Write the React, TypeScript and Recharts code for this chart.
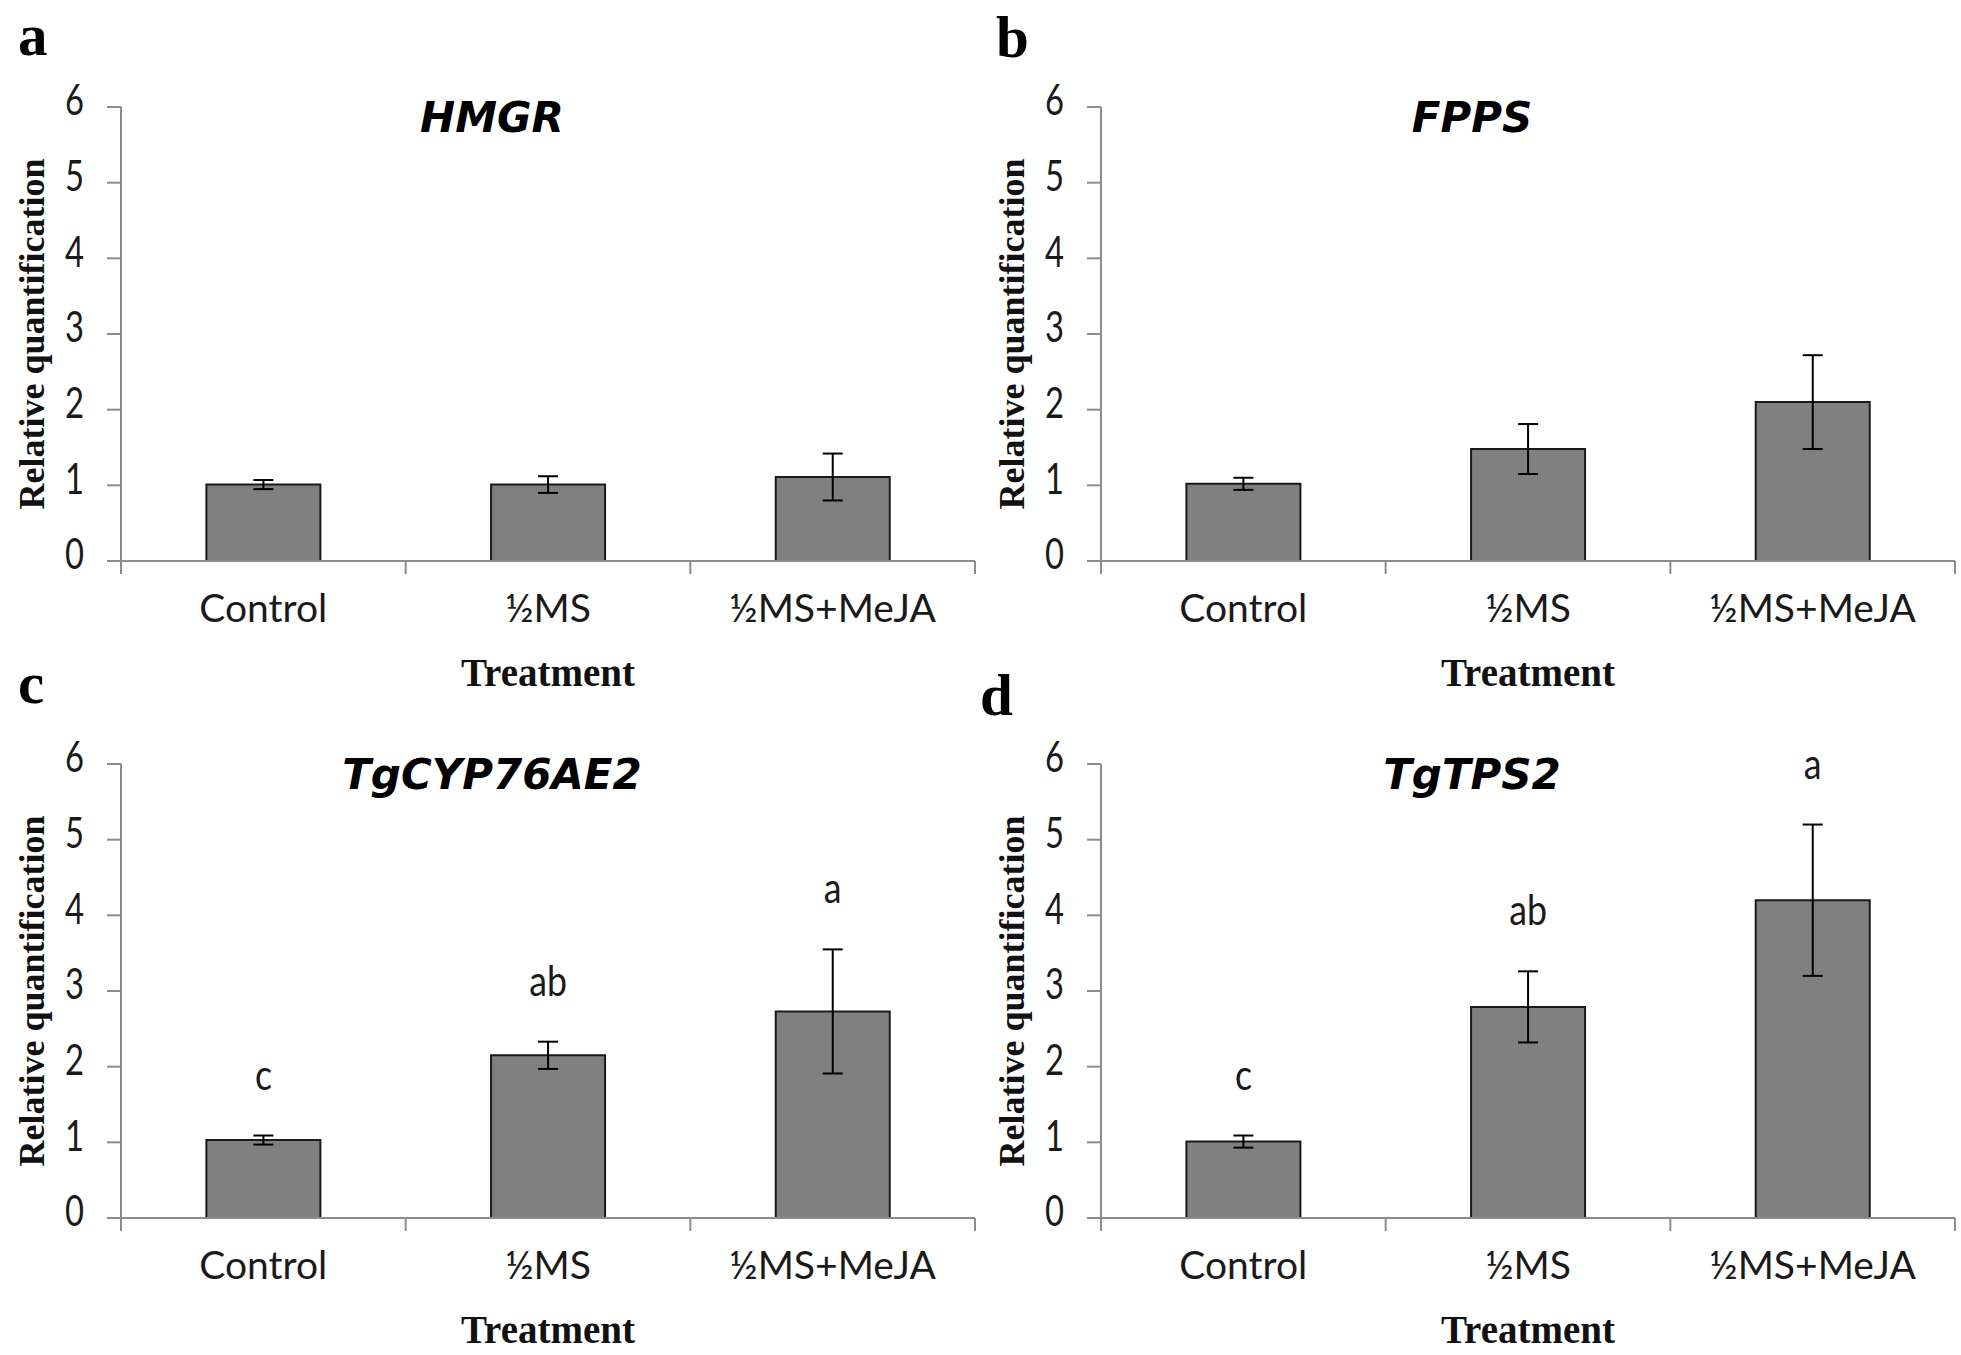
import React from "react";
import { BarChart, Bar, XAxis, YAxis, ErrorBar, LabelList, Label } from "recharts";

// treatments on the x axis
const treatments = ["Control", "½MS", "½MS+MeJA"];
const yTicks = [0, 1, 2, 3, 4, 5, 6];

// relative quantification (mean) and error
const hmgrMean = [1.01, 1.01, 1.11];
const hmgrErr = [0.06, 0.11, 0.31];

const fppsMean = [1.02, 1.48, 2.1];
const fppsErr = [0.08, 0.33, 0.62];

const cypMean = [1.03, 2.15, 2.73];
const cypErr = [0.06, 0.18, 0.82];
const cypSig = ["c", "ab", "a"];

const tpsMean = [1.01, 2.79, 4.2];
const tpsErr = [0.08, 0.47, 1.0];
const tpsSig = ["c", "ab", "a"];

const AXIS = "#8c8c8c";
const INK = "#1a1a1a";
const SANS = "Lato, 'Noto Sans', sans-serif";
const SERIF = "'Liberation Serif', 'DejaVu Serif', serif";

const PANEL_W = 980;
const PANEL_H = 698;
const PAD = 30; // overlay svg reaches a bit above the panel so big letters are not clipped

function CategoryTick(props: any) {
  const { x, y, payload, index, visibleTicksCount } = props;
  const half = payload && payload.offset ? payload.offset : 854 / 6;
  const last = index === (visibleTicksCount ?? 3) - 1;
  return (
    <g>
      <line x1={x - half} y1={y} x2={x - half} y2={y + 13} stroke={AXIS} strokeWidth={2} />
      {last && <line x1={x + half} y1={y} x2={x + half} y2={y + 13} stroke={AXIS} strokeWidth={2} />}
      <text x={x} y={y + 61} textAnchor="middle" fontFamily={SANS} fontSize={39} fill={INK}>
        {payload.value}
      </text>
    </g>
  );
}

// narrow digits, sitting a little above their tick like the original
function ValueTick(props: any) {
  const { x, y, payload } = props;
  return (
    <text
      transform={`translate(${x},${y - 8}) scale(0.78,1)`}
      textAnchor="end"
      dominantBaseline="central"
      fontFamily={SANS}
      fontSize={42}
      fill={INK}
    >
      {payload.value}
    </text>
  );
}

function sigLabel(means: number[], errs: number[]) {
  return (props: any) => {
    const { x, y, width, height, value, index } = props;
    if (value == null || index == null) return null;
    const errPx = (height / means[index]) * errs[index];
    return (
      <text
        transform={`translate(${x + width / 2},${y - errPx - 46}) scale(0.85,1)`}
        textAnchor="middle"
        fontFamily={SANS}
        fontSize={42}
        fill={INK}
      >
        {value}
      </text>
    );
  };
}

type PanelProps = {
  letter: string;
  letterX: number;
  letterY: number;
  title: string;
  means: number[];
  errs: number[];
  sig?: string[];
  left: number;
  top: number;
};

function Panel({ letter, letterX, letterY, title, means, errs, sig, left, top }: PanelProps) {
  const data = treatments.map((name, i) => ({
    name,
    mean: means[i],
    err: errs[i],
    sig: sig ? sig[i] : undefined,
  }));

  return (
    <div style={{ position: "absolute", left, top, width: PANEL_W, height: PANEL_H }}>
      <BarChart
        width={PANEL_W}
        height={PANEL_H}
        data={data}
        margin={{ top: 107, right: 5, left: 41, bottom: 0 }}
        barCategoryGap="30%"
      >
        <XAxis
          dataKey="name"
          height={137}
          axisLine={{ stroke: AXIS, strokeWidth: 2 }}
          tickLine={false}
          tickSize={0}
          tickMargin={0}
          interval={0}
          tick={<CategoryTick />}
        >
          <Label
            value="Treatment"
            position="insideBottom"
            offset={12}
            style={{ fontFamily: SERIF, fontWeight: "bold", fontSize: 39, fill: "#111" }}
          />
        </XAxis>
        <YAxis
          width={80}
          domain={[0, 6]}
          ticks={yTicks}
          interval={0}
          axisLine={{ stroke: AXIS, strokeWidth: 2 }}
          tickLine={{ stroke: AXIS, strokeWidth: 2 }}
          tickSize={14}
          tickMargin={23}
          tick={<ValueTick />}
        >
          <Label
            value="Relative quantification"
            angle={-90}
            position="left"
            offset={10}
            style={{ textAnchor: "middle", fontFamily: SERIF, fontWeight: "bold", fontSize: 36, fill: "#111" }}
          />
        </YAxis>
        <Bar dataKey="mean" fill="#808080" stroke={INK} strokeWidth={2} isAnimationActive={false}>
          <ErrorBar dataKey="err" width={10} stroke="#000" strokeWidth={2} direction="y" />
          {sig && <LabelList dataKey="sig" content={sigLabel(means, errs)} />}
        </Bar>
      </BarChart>
      <svg
        width={PANEL_W}
        height={PANEL_H + PAD}
        style={{ position: "absolute", left: 0, top: -PAD, pointerEvents: "none" }}
      >
        <text x={letterX} y={letterY + PAD} fontFamily={SERIF} fontWeight="bold" fontSize={59} fill="#000">
          {letter}
        </text>
        <text
          x={492}
          y={132 + PAD}
          textAnchor="middle"
          fontFamily="'DejaVu Sans', sans-serif"
          fontWeight="bold"
          fontStyle="italic"
          fontSize={42}
          fill="#000"
        >
          {title}
        </text>
      </svg>
    </div>
  );
}

export default function App() {
  return (
    <div style={{ position: "absolute", left: 0, top: 0, width: 1961, height: 1355, background: "#fff" }}>
      <Panel letter="a" letterX={18} letterY={55} title="HMGR" means={hmgrMean} errs={hmgrErr} left={0} top={0} />
      <Panel letter="b" letterX={16} letterY={57} title="FPPS" means={fppsMean} errs={fppsErr} left={980} top={0} />
      <Panel
        letter="c"
        letterX={18}
        letterY={46}
        title="TgCYP76AE2"
        means={cypMean}
        errs={cypErr}
        sig={cypSig}
        left={0}
        top={657}
      />
      <Panel
        letter="d"
        letterX={0}
        letterY={58}
        title="TgTPS2"
        means={tpsMean}
        errs={tpsErr}
        sig={tpsSig}
        left={980}
        top={657}
      />
    </div>
  );
}
